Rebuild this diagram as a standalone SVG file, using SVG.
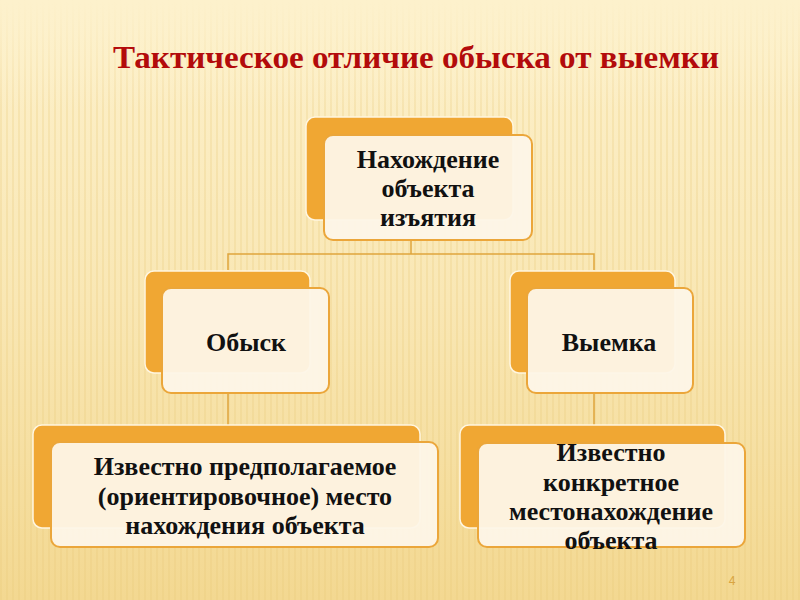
<svg xmlns="http://www.w3.org/2000/svg" width="800" height="600" viewBox="0 0 800 600">
<defs>
<linearGradient id="bg" x1="0" y1="0" x2="0" y2="1">
<stop offset="0" stop-color="#fdf1cc"/>
<stop offset="0.5" stop-color="#f9e7b4"/>
<stop offset="1" stop-color="#f3d891"/>
</linearGradient>
<pattern id="stripes" width="6" height="600" patternUnits="userSpaceOnUse">
<rect x="0" y="0" width="2" height="600" fill="#e8c878" opacity="0.25"/>
</pattern>
<linearGradient id="fadeTop" x1="0" y1="0" x2="0" y2="1">
<stop offset="0" stop-color="#fdf1cc" stop-opacity="1"/>
<stop offset="0.18" stop-color="#fdf1cc" stop-opacity="0"/>
</linearGradient>
<style>
.back{fill:#f0a733;stroke:#fff6e0;stroke-width:1.5}
.front{fill:#fdf5e8;stroke:#eba63a;stroke-width:2;fill-opacity:0.95}
.conn{fill:none;stroke:#dfa53c;stroke-width:1.5}
.lbl{font-family:"Liberation Serif","DejaVu Serif",serif;font-weight:bold;font-size:26px;fill:#111;text-anchor:middle}
.title{font-family:"Liberation Serif","DejaVu Serif",serif;font-weight:bold;font-size:31px;fill:#b30b0b;text-anchor:middle}
</style>
</defs>
<rect width="800" height="600" fill="url(#bg)"/>
<rect width="800" height="600" fill="url(#stripes)"/>
<rect width="800" height="600" fill="url(#fadeTop)"/>
<text class="title" x="416" y="68" textLength="606" lengthAdjust="spacingAndGlyphs">Тактическое отличие обыска от выемки</text>
<g id="connectors">
<path class="conn" d="M411,240 V254 M228,270 V254 H594 V270"/>
<path class="conn" d="M228,393 V425"/>
<path class="conn" d="M594,393 V425"/>
</g>
<g id="node-top">
<rect class="back" x="306" y="117" width="207" height="103" rx="9"/>
<rect class="front" x="324" y="135" width="208" height="105" rx="9"/>
<text class="lbl" x="428" y="168">Нахождение</text>
<text class="lbl" x="428" y="197">объекта</text>
<text class="lbl" x="428" y="226">изъятия</text>
</g>
<g id="node-obysk">
<rect class="back" x="145" y="271" width="165" height="102" rx="9"/>
<rect class="front" x="162" y="288" width="167" height="105" rx="9"/>
<text class="lbl" x="246" y="351">Обыск</text>
</g>
<g id="node-vyemka">
<rect class="back" x="510" y="271" width="165" height="102" rx="9"/>
<rect class="front" x="527" y="288" width="166" height="105" rx="9"/>
<text class="lbl" x="609" y="351">Выемка</text>
</g>
<g id="node-left-bottom">
<rect class="back" x="33" y="425" width="387" height="103" rx="9"/>
<rect class="front" x="51" y="442" width="387" height="105" rx="9"/>
<text class="lbl" x="245" y="475">Известно предполагаемое</text>
<text class="lbl" x="245" y="505">(ориентировочное) место</text>
<text class="lbl" x="245" y="534">нахождения объекта</text>
</g>
<g id="node-right-bottom">
<rect class="back" x="460" y="425" width="265" height="103" rx="9"/>
<rect class="front" x="478" y="443" width="267" height="104" rx="9"/>
<text class="lbl" x="611" y="461">Известно</text>
<text class="lbl" x="611" y="491">конкретное</text>
<text class="lbl" x="611" y="520">местонахождение</text>
<text class="lbl" x="611" y="549">объекта</text>
</g>
<text x="732" y="585" font-family="Liberation Sans, Arial, sans-serif" font-size="12" fill="#d9a441" text-anchor="middle">4</text>
</svg>
